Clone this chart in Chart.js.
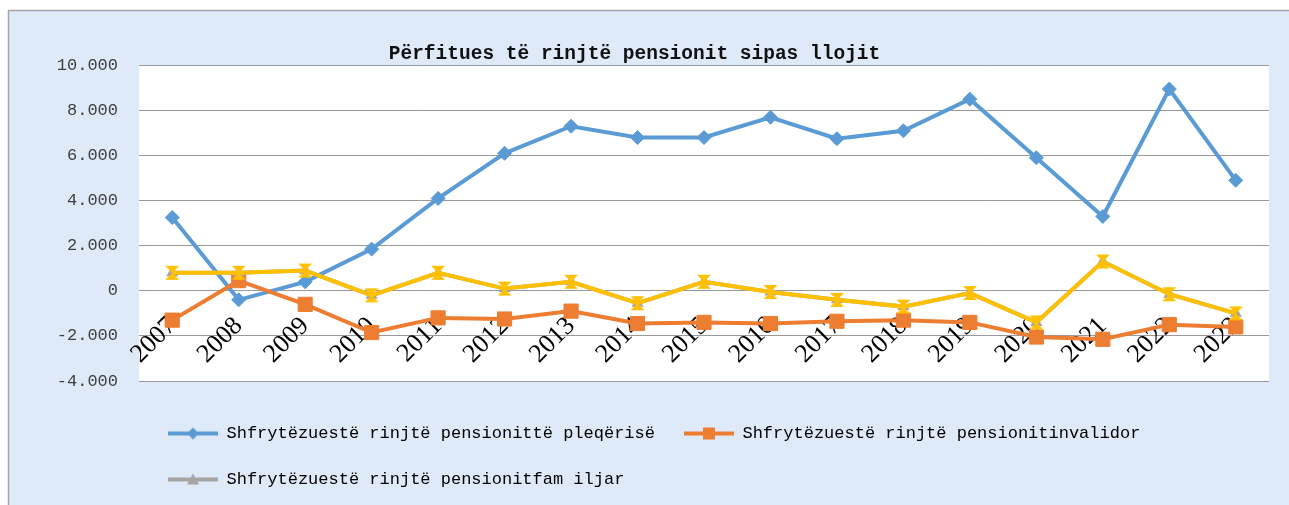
<!DOCTYPE html>
<html lang="sq">
<head>
    <meta charset="UTF-8">
    <title>Përfitues të rinjtë pensionit sipas llojit</title>
    <script src="https://cdn.jsdelivr.net/npm/chart.js"></script>
    <style>
        html, body { margin: 0; padding: 0; background: #fff; }
        #wrap { position: relative; width: 1289px; height: 505px; }
    </style>
</head>
<body>
    <div id="wrap"><canvas id="pensionChart"></canvas></div>

    <script>
        // data
        const years = ["2007", "2008", "2009", "2010", "2011", "2012", "2013", "2014", "2015",
                       "2016", "2017", "2018", "2019", "2020", "2021", "2022", "2023"];
        const pleqerise = [3250, -400, 400, 1850, 4100, 6100, 7300, 6800, 6800,
                           7700, 6750, 7100, 8500, 5900, 3300, 8950, 4900];
        const invalidor = [-1300, 450, -600, -1850, -1200, -1250, -900, -1450, -1400,
                           -1450, -1350, -1300, -1400, -2050, -2150, -1500, -1600];
        const familjar = [800, 800, 900, -200, 800, 100, 400, -550, 400,
                          -50, -400, -700, -100, -1400, 1300, -150, -1000];
        const seriesNames = [
            "Shfrytëzuestë rinjtë pensionittë pleqërisë",
            "Shfrytëzuestë rinjtë pensionitinvalidor",
            "Shfrytëzuestë rinjtë pensionitfam iljar"
        ];
        const yTicks = { min: -4000, max: 10000, step: 2000 };

        const BLUE = "#5b9bd5", ORANGE = "#ed7d31", GRAY = "#a5a5a5", YELLOW = "#ffc000";

        // thousands with a dot, like "10.000"
        function fmt(v) {
            const s = Math.abs(v).toString().replace(/\B(?=(\d{3})+(?!\d))/g, ".");
            return (v < 0 ? "-" : "") + s;
        }

        // small canvases used as marker images
        function legendIcon(color, shape) {
            const c = document.createElement("canvas");
            c.width = 50; c.height = 14;
            const g = c.getContext("2d");
            g.fillStyle = color;
            g.fillRect(0, 5, 50, 4);
            g.beginPath();
            if (shape === "diamond") {
                g.moveTo(25, 1); g.lineTo(31, 7); g.lineTo(25, 13); g.lineTo(19, 7);
            } else if (shape === "square") {
                g.rect(19, 1, 12, 12);
            } else {
                g.moveTo(25, 1); g.lineTo(31, 12); g.lineTo(19, 12);
            }
            g.closePath();
            g.fill();
            return c;
        }

        function hourglass(color) {
            const c = document.createElement("canvas");
            c.width = 16; c.height = 16;
            const g = c.getContext("2d");
            g.fillStyle = color;
            g.beginPath();
            g.moveTo(1, 1); g.lineTo(15, 1); g.lineTo(8, 8); g.closePath();
            g.moveTo(8, 8); g.lineTo(15, 15); g.lineTo(1, 15); g.closePath();
            g.fill();
            return c;
        }

        const icons = [legendIcon(BLUE, "diamond"), legendIcon(ORANGE, "square"), legendIcon(GRAY, "triangle")];

        const backdrop = {
            id: "backdrop",
            beforeDraw(chart) {
                const { ctx, width, height, chartArea } = chart;
                ctx.save();
                ctx.fillStyle = "#deeaf8";
                ctx.fillRect(8, 10, width - 8, height - 10);
                ctx.strokeStyle = "#a6a6a6";
                ctx.lineWidth = 1.5;
                ctx.beginPath();
                ctx.moveTo(8.5, height);
                ctx.lineTo(8.5, 10.5);
                ctx.lineTo(width, 10.5);
                ctx.stroke();
                ctx.fillStyle = "#ffffff";
                ctx.fillRect(chartArea.left, chartArea.top, chartArea.width, chartArea.height);
                ctx.restore();
            }
        };

        const ctx = document.getElementById("pensionChart").getContext("2d");
        new Chart(ctx, {
            type: "line",
            data: {
                labels: years,
                datasets: [
                    {
                        label: seriesNames[0],
                        data: pleqerise,
                        borderColor: BLUE,
                        backgroundColor: BLUE,
                        borderWidth: 4,
                        pointStyle: "rectRot",
                        pointRadius: 7,
                        pointBorderWidth: 1,
                        tension: 0,
                        order: 3
                    },
                    {
                        label: seriesNames[1],
                        data: invalidor,
                        borderColor: ORANGE,
                        backgroundColor: ORANGE,
                        borderWidth: 4,
                        pointStyle: "rect",
                        pointRadius: 10,
                        pointBorderWidth: 1,
                        tension: 0,
                        order: 2
                    },
                    {
                        label: seriesNames[2],
                        data: familjar,
                        borderColor: GRAY,
                        backgroundColor: GRAY,
                        borderWidth: 4,
                        pointStyle: "triangle",
                        pointRadius: 7,
                        pointBorderWidth: 0,
                        tension: 0,
                        order: 1
                    },
                    {
                        // yellow line drawn over the gray one, not in the legend
                        label: "",
                        data: familjar,
                        borderColor: YELLOW,
                        backgroundColor: YELLOW,
                        borderWidth: 4,
                        pointStyle: hourglass(YELLOW),
                        tension: 0,
                        order: 0
                    }
                ]
            },
            options: {
                responsive: true,
                maintainAspectRatio: false,
                animation: false,
                layout: { padding: { left: 0, right: 20, top: 0, bottom: 7 } },
                plugins: {
                    tooltip: { enabled: false },
                    title: {
                        display: true,
                        text: "Përfitues të rinjtë pensionit sipas llojit",
                        color: "#111",
                        font: { family: "'Liberation Mono', monospace", size: 19.5, weight: "bold" },
                        padding: { top: 42, bottom: 0 }
                    },
                    // empty spacer between plot and legend
                    subtitle: {
                        display: true,
                        text: "",
                        position: "bottom",
                        fullSize: false,
                        weight: 500,
                        font: { size: 10, lineHeight: "15px" },
                        padding: 0
                    },
                    legend: {
                        position: "bottom",
                        align: "start",
                        fullSize: false,
                        labels: {
                            color: "#404040",
                            font: { family: "'Liberation Mono', monospace", size: 17 },
                            padding: 29,
                            usePointStyle: true,
                            pointStyleWidth: 50,
                            generateLabels: (chart) => seriesNames.map((name, i) => ({
                                text: name,
                                pointStyle: icons[i],
                                fillStyle: chart.data.datasets[i].borderColor,
                                strokeStyle: chart.data.datasets[i].borderColor,
                                lineWidth: 0,
                                hidden: false,
                                datasetIndex: i
                            }))
                        }
                    }
                },
                scales: {
                    x: {
                        position: { y: 0 },
                        offset: true,
                        grid: { display: false, drawTicks: false },
                        border: { display: false },
                        ticks: {
                            autoSkip: false,
                            minRotation: 45,
                            maxRotation: 45,
                            padding: 20,
                            color: "#000",
                            font: { family: "'Liberation Serif', serif", size: 26 }
                        }
                    },
                    y: {
                        min: yTicks.min,
                        max: yTicks.max,
                        afterFit: (scale) => { scale.width = 139; },
                        grid: { color: "#999999", lineWidth: 1, drawTicks: false },
                        border: { display: false },
                        ticks: {
                            stepSize: yTicks.step,
                            padding: 21,
                            color: "#404040",
                            font: { family: "'Liberation Mono', monospace", size: 17 },
                            callback: (v) => fmt(v)
                        }
                    }
                }
            },
            plugins: [backdrop]
        });
    </script>
</body>
</html>
